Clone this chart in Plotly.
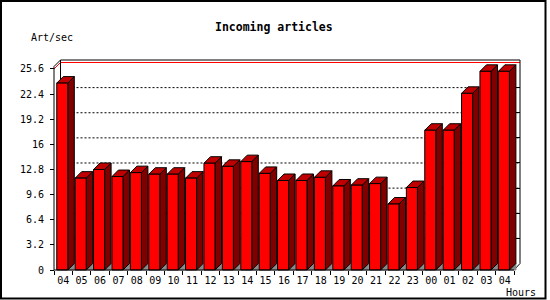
import plotly.graph_objects as go

# ---------------- data ----------------
hours = ["04", "05", "06", "07", "08", "09", "10", "11", "12", "13", "14", "15",
         "16", "17", "18", "19", "20", "21", "22", "23", "00", "01", "02", "03", "04"]
values = [23.8, 11.7, 12.8, 11.9, 12.4, 12.2, 12.2, 11.7, 13.6, 13.2, 13.8, 12.3,
          11.4, 11.4, 11.8, 10.7, 10.8, 11.0, 8.4, 10.5, 17.8, 17.8, 22.5, 25.3, 25.3]
y_tick_vals = [0, 3.2, 6.4, 9.6, 12.8, 16, 19.2, 22.4, 25.6]
y_tick_text = ["0", "3.2", "6.4", "9.6", "12.8", "16", "19.2", "22.4", "25.6"]
grid_vals = [3.2, 6.4, 9.6, 12.8, 16, 19.2, 22.4]
max_line = 25.6

title_text = "Incoming articles"
y_title = "Art/sec"
x_title = "Hours"

# ---------------- geometry ----------------
W, H = 550, 300
X_PX = 18.4      # pixels per category
Y_PX = 7.852     # pixels per unit
DEPTH = 6.5      # 3D depth in px
PAD = 3          # px of plot area beyond frame
AX_X = 54        # front y-axis pixel x
AX_Y = 270       # front x-axis pixel y
BACK_RIGHT = 520
BACK_TOP = 60

PL = AX_X - PAD
PR = BACK_RIGHT + PAD
PT = BACK_TOP - PAD
PB = AX_Y + PAD
PW = PR - PL
PH = PB - PT

dxu = DEPTH / X_PX
dyu = DEPTH / Y_PX
x_lo = -0.5 - PAD / X_PX
x_hi = -0.5 + (PR - AX_X) / X_PX
x_back = -0.5 + (BACK_RIGHT - AX_X) / X_PX
y_lo = -PAD / Y_PX
y_hi = (AX_Y - PT) / Y_PX
y_top = (AX_Y - BACK_TOP) / Y_PX

FL, FR = -0.35, 0.25   # front face extent relative to category center


def xp(px):
    return (px - PL) / PW


def yp(py):
    return (PB - py) / PH


FRONT = "#ff0000"
TOP = "#c00000"
SIDE = "#800000"
FLOOR = "#8a8a8a"
MONO = "DejaVu Sans Mono"

fig = go.Figure()


def line(xs, ys, color="black", dash=None, yaxis="y"):
    fig.add_trace(go.Scatter(x=xs, y=ys, mode="lines", yaxis=yaxis,
                             line=dict(color=color, width=1, dash=dash),
                             hoverinfo="skip", showlegend=False))


# back-plane grid lines
for g in grid_vals:
    line([-0.5 + dxu, x_back], [g + dyu, g + dyu], dash="2px,2px")
# red max line
line([-0.5, -0.5 + dxu, x_back], [max_line, max_line + dyu, max_line + dyu], color="#ff0000")
# back frame
line([-0.5 + dxu, -0.5 + dxu, x_back, x_back, 24.5],
     [dyu, y_top, y_top, dyu, 0])


# bars
def poly(xs_list, ys_list, fill, lcolor):
    xs, ys = [], []
    for px_, py_ in zip(xs_list, ys_list):
        xs += px_ + [None]
        ys += py_ + [None]
    fig.add_trace(go.Scatter(x=xs, y=ys, mode="lines", fill="toself", fillcolor=fill,
                             line=dict(color=lcolor, width=1),
                             hoverinfo="skip", showlegend=False))


idx = list(range(len(values)))
poly([[i + FR, i + FR + dxu, i + FR + dxu, i + FR] for i in idx],
     [[0, dyu, 0, 0] for i in idx], FLOOR, FLOOR)
poly([[i + FR, i + FR + dxu, i + FR + dxu, i + FR, i + FR] for i in idx],
     [[v, v + dyu, dyu, 0, v] for v in values], SIDE, "black")
poly([[i + FL, i + FL + dxu, i + FR + dxu, i + FR, i + FL] for i in idx],
     [[v, v + dyu, v + dyu, v, v] for v in values], TOP, "black")
poly([[i + FL, i + FL, i + FR, i + FR, i + FL] for i in idx],
     [[0, v, v, 0, 0] for v in values], FRONT, "black")

# front axes
line([-0.5, -0.5, -0.5 + dxu], [0, y_top - dyu, y_top])
line([-0.5, 24.5], [0, 0])

# dummy trace for the right tick axis
fig.add_trace(go.Scatter(x=[0], y=[0], yaxis="y2", mode="markers",
                         marker=dict(opacity=0), hoverinfo="skip", showlegend=False))

fig.update_layout(
    width=W, height=H,
    margin=dict(l=PL, r=W - PR, t=PT, b=H - PB, pad=0),
    paper_bgcolor="white", plot_bgcolor="white",
    showlegend=False,
    xaxis=dict(range=[x_lo, x_hi], anchor="free", position=yp(AX_Y),
               tickmode="array", tickvals=idx, ticktext=hours, ticks="",
               ticklabelstandoff=3,
               showgrid=False, zeroline=False, showline=False,
               tickfont=dict(family=MONO, size=10, color="black"),
               minor=dict(tickmode="array", tickvals=[i - 0.5 for i in range(26)],
                          ticks="outside", ticklen=4, tickwidth=1, tickcolor="black",
                          showgrid=False)),
    yaxis=dict(range=[y_lo, y_hi], anchor="free", position=xp(AX_X),
               tickmode="array", tickvals=y_tick_vals, ticktext=y_tick_text,
               ticks="outside", ticklen=4, tickwidth=1, tickcolor="black",
               ticklabelstandoff=4,
               showgrid=False, zeroline=False, showline=False,
               tickfont=dict(family=MONO, size=10, color="black")),
    yaxis2=dict(range=[y_lo - dyu, y_hi - dyu], overlaying="y", side="right",
                anchor="free", position=xp(BACK_RIGHT),
                tickmode="array", tickvals=y_tick_vals[1:-1],
                ticks="inside", ticklen=4, tickwidth=1, tickcolor="black",
                showticklabels=False, showgrid=False, zeroline=False, showline=False),
    annotations=[
        dict(text="<b>" + title_text + "</b>", xref="paper", yref="paper",
             x=xp(274), y=yp(27), xanchor="center", yanchor="middle", showarrow=False,
             font=dict(family=MONO, size=11.5, color="black")),
        dict(text=y_title, xref="paper", yref="paper",
             x=xp(29), y=yp(37), xanchor="left", yanchor="middle", showarrow=False,
             font=dict(family=MONO, size=10, color="black")),
        dict(text=x_title, xref="paper", yref="paper",
             x=xp(504), y=yp(292), xanchor="left", yanchor="middle", showarrow=False,
             font=dict(family=MONO, size=10, color="black")),
    ],
    shapes=[dict(type="rect", xref="paper", yref="paper",
                 x0=xp(1), x1=xp(545.5), y0=yp(1), y1=yp(298.5),
                 line=dict(color="black", width=2), fillcolor="rgba(0,0,0,0)")],
)

fig.write_html("out.html")
